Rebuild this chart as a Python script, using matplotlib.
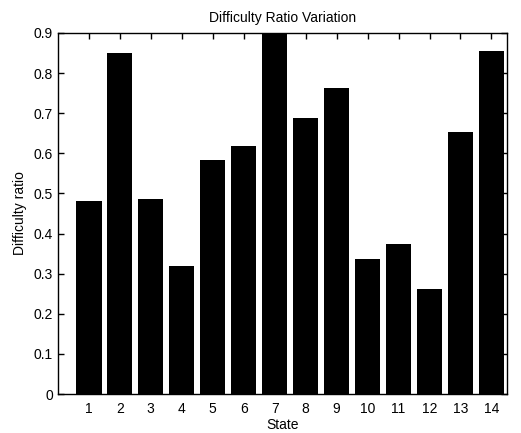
import matplotlib
matplotlib.use("Agg")
import matplotlib.pyplot as plt

states = list(range(1, 15))
ratios = [0.482, 0.851, 0.486, 0.320, 0.584, 0.619, 0.93,
          0.687, 0.762, 0.337, 0.373, 0.262, 0.652, 0.856]
yticks = [0, 0.1, 0.2, 0.3, 0.4, 0.5, 0.6, 0.7, 0.8, 0.9]
ytick_labels = ["0", "0.1", "0.2", "0.3", "0.4", "0.5", "0.6", "0.7", "0.8", "0.9"]

plt.rcParams["font.family"] = ["Liberation Sans", "DejaVu Sans"]
plt.rcParams["font.size"] = 10

fig = plt.figure(figsize=(5.21, 4.33), dpi=100)
ax = fig.add_axes([0.111, 0.090, 0.862, 0.834])
ax.bar(states, ratios, width=0.82, color="black")
ax.set_xlim(0, 14.5)
ax.set_ylim(0, 0.9)
ax.set_xticks(states)
ax.set_yticks(yticks)
ax.set_yticklabels(ytick_labels)
ax.tick_params(direction="in", length=4, top=True, right=True, width=1)
ax.tick_params(axis="x", pad=6)
for s in ax.spines.values():
    s.set_linewidth(1)
ax.set_title("Difficulty Ratio Variation", fontsize=10, pad=8)
ax.set_xlabel("State", labelpad=1)
ax.set_ylabel("Difficulty ratio", labelpad=5)

fig.savefig("out.png", dpi=100)
